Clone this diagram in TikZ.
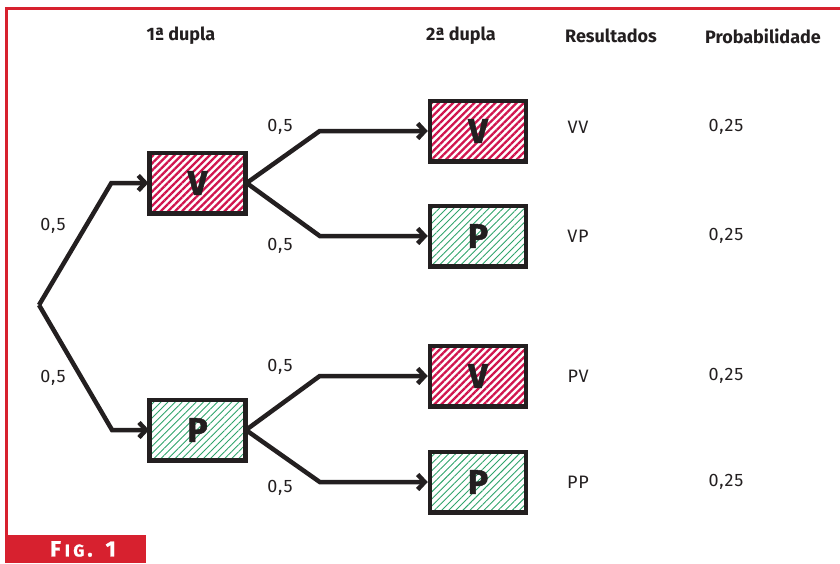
\documentclass[tikz,border=0pt]{standalone}
\usepackage{fontspec}
\setmainfont{Fira Sans}
\usetikzlibrary{arrows.meta,patterns.meta}
\definecolor{figred}{HTML}{D7212F}
\definecolor{hred}{HTML}{D0154E}
\definecolor{hgreen}{HTML}{2FA36B}
\definecolor{ink}{HTML}{231F20}
\begin{document}
\begin{tikzpicture}[x=1pt,y=-1pt,
  box/.style={draw=ink, line width=4.5pt, minimum width=96pt, minimum height=60.5pt,
    inner sep=0pt, font=\fontsize{34}{36}\selectfont\bfseries\addfontfeatures{FakeBold=1.5}, text=ink},
  vbox/.style={box, pattern={Lines[angle=45,distance=5pt,line width=2.3pt]}, pattern color=hred},
  pbox/.style={box, pattern={Lines[angle=45,distance=5pt,line width=0.9pt]}, pattern color=hgreen},
  edge/.style={draw=ink, line width=4.5pt, line join=miter},
  arr/.style={edge, -{Straight Barb[length=7pt,width=15pt]}},
  lab/.style={font=\fontsize{18}{20}\selectfont\addfontfeatures{LetterSpace=5}, text=ink, inner sep=0pt},
  head/.style={font=\fontsize{18}{20}\selectfont\bfseries, text=ink, inner sep=0pt}
]
\useasboundingbox (0,0) rectangle (840,563);
% frame
\draw[figred, line width=3pt] (840,8.5) -- (6,8.5) -- (6,535);
\node[fill=figred, minimum width=141pt, minimum height=28pt, inner sep=0pt, anchor=north west] (fig) at (4.5,535) {};
\node[font=\fontsize{22}{23}\selectfont\bfseries\addfontfeatures{FakeBold=1.2}, text=white, inner sep=0pt] (figt) at (83,549) {F\kern4pt{\fontsize{17}{18}\selectfont I\kern3.5pt G}\kern3pt.\kern13pt 1};
% headers
\node[head] (h1) at (181,36) {1ª dupla};
\node[head] (h2) at (461,36) {2ª dupla};
\node[head] (h3) at (611,36) {Resultados};
\node[head] (h4) at (763,36) {Probabilidade};
% boxes
\node[vbox] (v1) at (197.5,183) {V};
\node[pbox] (p1) at (197.5,430) {P};
\node[vbox] (vv) at (478,131) {V};
\node[pbox] (vp) at (478,236) {P};
\node[vbox] (pv) at (478,376) {V};
\node[pbox] (pp) at (478,482) {P};
% root
\coordinate (r) at (39,305);
\draw[arr] (r) -- ([xshift=-37pt]v1.west) -- (v1.west);
\draw[arr] (r) -- ([xshift=-37pt]p1.west) -- (p1.west);
\draw[arr] (v1.east) -- ([xshift=-108pt]vv.west) -- (vv.west);
\draw[arr] (v1.east) -- ([xshift=-108pt]vp.west) -- (vp.west);
\draw[arr] (p1.east) -- ([xshift=-108pt]pv.west) -- (pv.west);
\draw[arr] (p1.east) -- ([xshift=-108pt]pp.west) -- (pp.west);
% probability labels
\node[lab] (l1) at (53,226) {0,5};
\node[lab] (l2) at (53,378) {0,5};
\node[lab] (l3) at (280,127) {0,5};
\node[lab] (l4) at (280,246) {0,5};
\node[lab] (l5) at (280,367) {0,5};
\node[lab] (l6) at (280,488) {0,5};
% results
\node[lab] (r1) at (578,127) {VV};
\node[lab] (r2) at (578,236) {VP};
\node[lab] (r3) at (578,376) {PV};
\node[lab] (r4) at (578,482) {PP};
\node[lab] (q1) at (726,127) {0,25};
\node[lab] (q2) at (726,236) {0,25};
\node[lab] (q3) at (726,376) {0,25};
\node[lab] (q4) at (726,482) {0,25};
\end{tikzpicture}
\end{document}
